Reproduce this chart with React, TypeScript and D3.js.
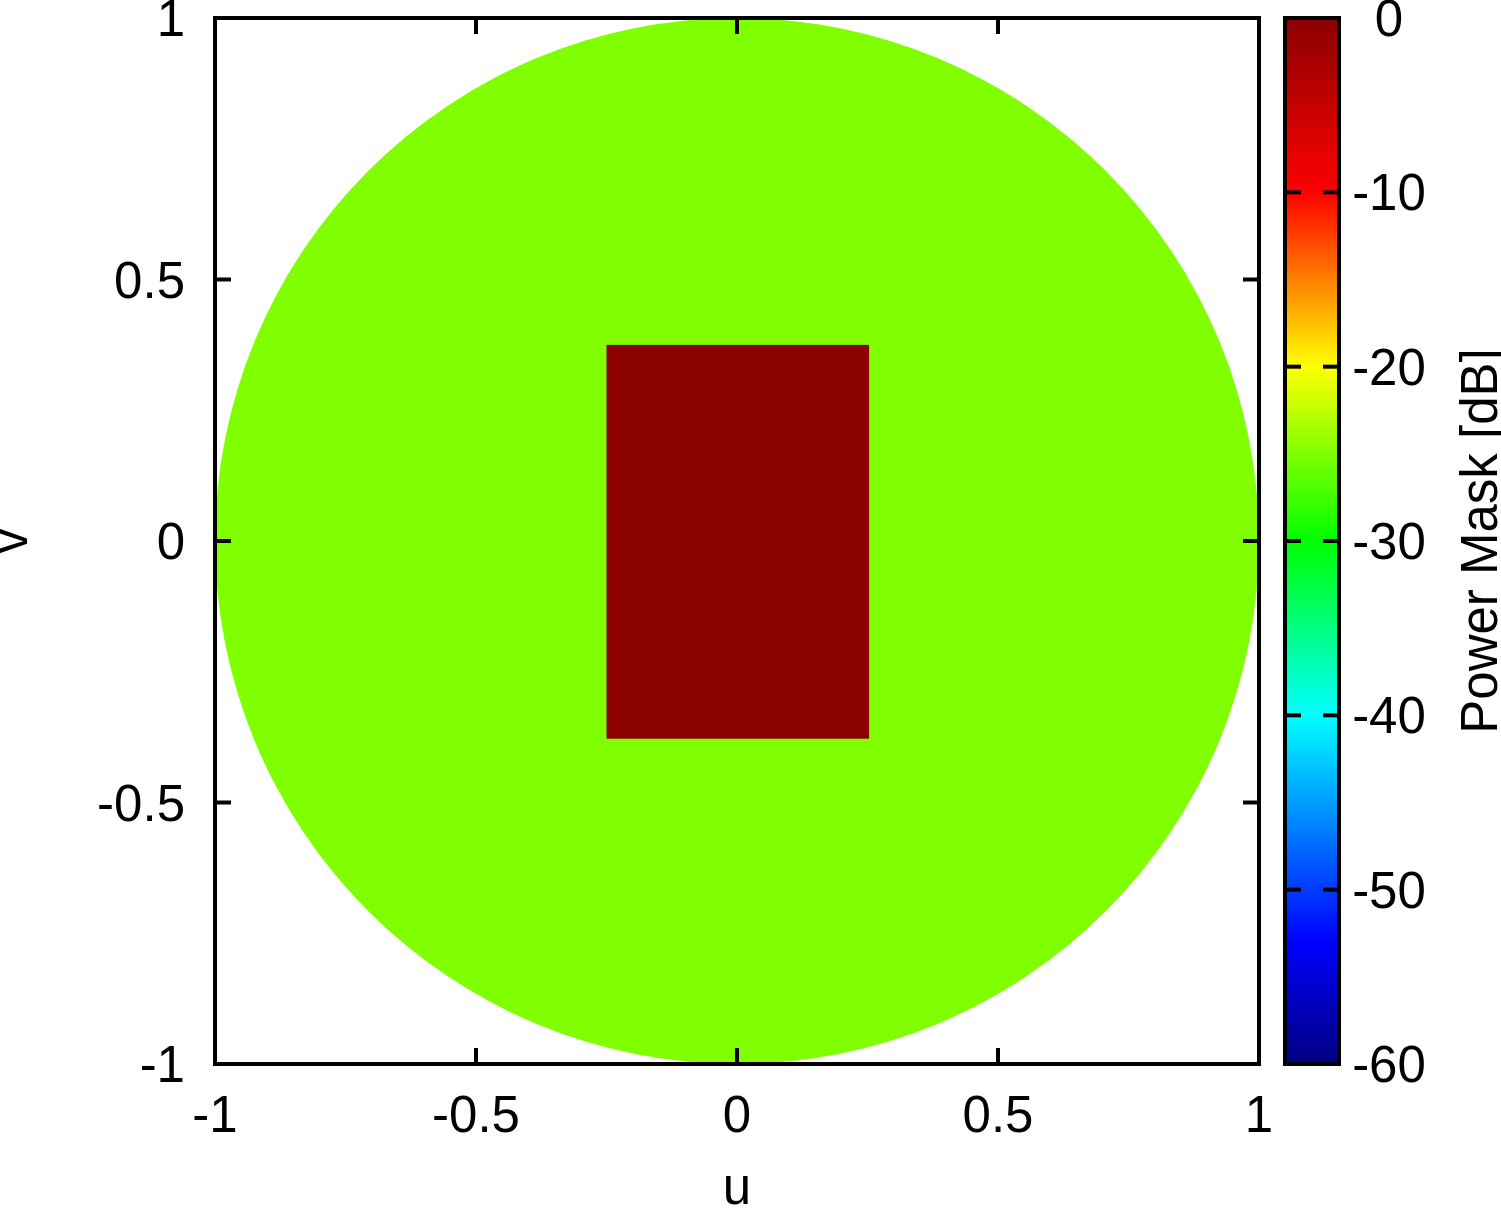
import React from "react";
import * as d3 from "d3";

// ---- data ----
const xTicks = [-1, -0.5, 0, 0.5, 1];
const yTicks = [-1, -0.5, 0, 0.5, 1];
const cbTicks = [0, -10, -20, -30, -40, -50, -60];
const cbDomain = [-60, 0];
// palette stops (dB value -> colour)
const paletteValues = [-60, -53, -40, -30, -20, -10, 0];
const paletteColors = ["#000080", "#0000ff", "#00ffff", "#00ff00", "#ffff00", "#ff0000", "#8b0000"];
// mask regions
const circleRegion = { cu: 0, cv: 0, r: 1, value: -25 };
const rectRegion = { u0: -0.25, u1: 0.253, v0: -0.378, v1: 0.375, value: 0 };

const W = 1501;
const H = 1208;
const plot = { x0: 215, x1: 1259, y0: 18, y1: 1064 };
const cb = { x0: 1285, x1: 1339 };
const FONT = "'Liberation Sans', Arial, Helvetica, sans-serif";
const FS = 51;
const TICK = 16;
const LW = 4;

export default function App() {
  const x = d3.scaleLinear().domain([-1, 1]).range([plot.x0, plot.x1]);
  const y = d3.scaleLinear().domain([-1, 1]).range([plot.y1, plot.y0]);
  const cbY = d3.scaleLinear().domain(cbDomain).range([plot.y1, plot.y0]);
  const color = d3.scaleLinear<string>().domain(paletteValues).range(paletteColors).interpolate(d3.interpolateRgb);

  const cbH = plot.y1 - plot.y0;
  // from top (0 dB) to bottom (-60 dB)
  const stops = d3.range(0, 61).map((i) => {
    const v = cbDomain[1] - i;
    return { offset: (i / 60) * 100, c: color(v) };
  });

  return (
    <svg width={W} height={H} style={{ position: "absolute", left: 0, top: 0, background: "#fff" }} fontFamily={FONT}>
      <defs>
        <linearGradient id="cbgrad" x1="0" y1="0" x2="0" y2="1">
          {stops.map((s, i) => (
            <stop key={i} offset={`${s.offset}%`} stopColor={s.c} />
          ))}
        </linearGradient>
        <clipPath id="plotclip">
          <rect x={plot.x0} y={plot.y0} width={plot.x1 - plot.x0} height={plot.y1 - plot.y0} />
        </clipPath>
      </defs>

      {/* mask image */}
      <g clipPath="url(#plotclip)">
        <ellipse
          cx={x(circleRegion.cu)}
          cy={y(circleRegion.cv)}
          rx={x(circleRegion.r) - x(0)}
          ry={y(0) - y(circleRegion.r)}
          fill={color(circleRegion.value)}
        />
        <rect
          x={x(rectRegion.u0)}
          y={y(rectRegion.v1)}
          width={x(rectRegion.u1) - x(rectRegion.u0)}
          height={y(rectRegion.v0) - y(rectRegion.v1)}
          fill={color(rectRegion.value)}
        />
      </g>

      {/* ticks */}
      <g stroke="#000" strokeWidth={LW}>
        {xTicks.map((t) => (
          <g key={"xt" + t}>
            <line x1={x(t)} x2={x(t)} y1={plot.y1} y2={plot.y1 - TICK} />
            <line x1={x(t)} x2={x(t)} y1={plot.y0} y2={plot.y0 + TICK} />
          </g>
        ))}
        {yTicks.map((t) => (
          <g key={"yt" + t}>
            <line x1={plot.x0} x2={plot.x0 + TICK} y1={y(t)} y2={y(t)} />
            <line x1={plot.x1} x2={plot.x1 - TICK} y1={y(t)} y2={y(t)} />
          </g>
        ))}
      </g>
      <rect x={plot.x0} y={plot.y0} width={plot.x1 - plot.x0} height={plot.y1 - plot.y0} fill="none" stroke="#000" strokeWidth={LW} />

      {/* tick labels */}
      <g fontSize={FS} fill="#000">
        {xTicks.map((t) => (
          <text key={"xl" + t} x={x(t)} y={plot.y1 + 68} textAnchor="middle">
            {String(t)}
          </text>
        ))}
        {yTicks.map((t) => (
          <text key={"yl" + t} x={plot.x0 - 30} y={y(t) + 18} textAnchor="end">
            {String(t)}
          </text>
        ))}
      </g>

      {/* axis labels */}
      <text x={x(0)} y={1204} textAnchor="middle" fontSize={FS}>u</text>
      <text transform={`translate(27,${y(0)}) rotate(-90)`} textAnchor="middle" fontSize={FS}>v</text>

      {/* colour bar */}
      <rect x={cb.x0} y={plot.y0} width={cb.x1 - cb.x0} height={cbH} fill="url(#cbgrad)" />
      <g stroke="#000" strokeWidth={LW}>
        {cbTicks.map((t) => (
          <g key={"cbt" + t}>
            <line x1={cb.x0} x2={cb.x0 + TICK} y1={cbY(t)} y2={cbY(t)} />
            <line x1={cb.x1} x2={cb.x1 - TICK} y1={cbY(t)} y2={cbY(t)} />
          </g>
        ))}
      </g>
      <rect x={cb.x0} y={plot.y0} width={cb.x1 - cb.x0} height={cbH} fill="none" stroke="#000" strokeWidth={LW} />
      <g fontSize={FS} fill="#000">
        {cbTicks.map((t) => (
          <text key={"cbl" + t} x={1389} y={cbY(t) + 18} textAnchor="middle">
            {String(t)}
          </text>
        ))}
      </g>
      <text transform={`translate(1497,${cbY(-30)}) rotate(-90)`} textAnchor="middle" fontSize={FS}>
        Power Mask [dB]
      </text>
    </svg>
  );
}
